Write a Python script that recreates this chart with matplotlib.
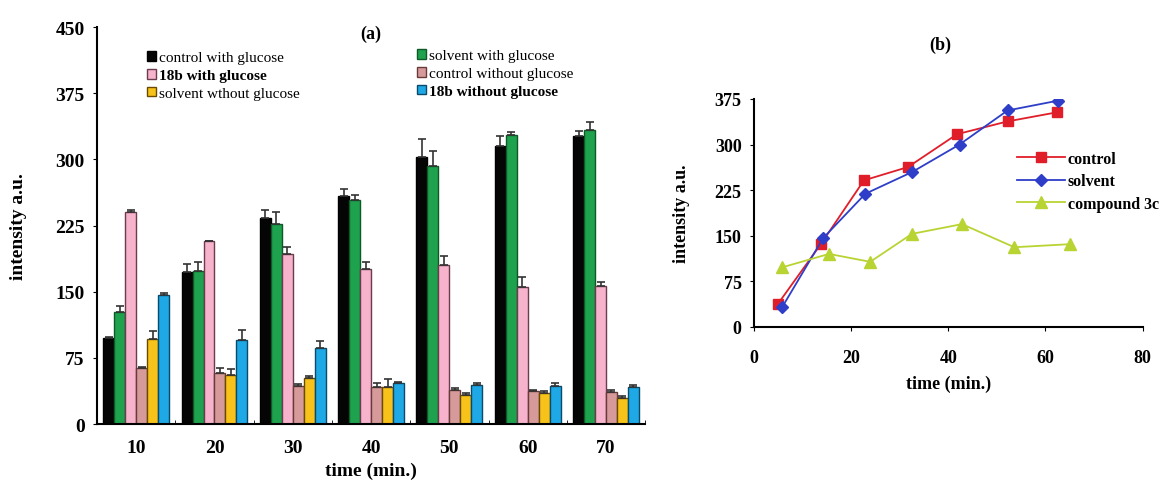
import numpy as np
import matplotlib.pyplot as plt

plt.rcParams['font.family'] = ['Liberation Serif', 'DejaVu Serif']

# ---- panel (a) data ----
times = ['10', '20', '30', '40', '50', '60', '70']
series_names = ['control with glucose', 'solvent with glucose', '18b with glucose',
                'control without glucose', 'solvent wthout glucose', '18b without glucose']
ctrl_glu = [97, 172, 234, 258, 303, 315, 326]
solv_glu = [127, 174, 227, 254, 292, 328, 333]
b18_glu = [240, 207, 193, 176, 180, 155, 157]
ctrl_noglu = [63, 58, 43, 42, 39, 37, 36]
solv_noglu = [96, 55, 52, 42, 33, 35, 30]
b18_noglu = [146, 95, 86, 46, 44, 43, 42]

err_ctrl_glu = [2, 9, 9, 8, 20, 11, 6]
err_solv_glu = [7, 10, 13, 6, 17, 3, 9]
err_b18_glu = [3, 1, 8, 8, 10, 12, 4]
err_ctrl_noglu = [2, 5, 2, 4, 2, 2, 2]
err_solv_noglu = [10, 7, 2, 9, 2, 2, 2]
err_b18_noglu = [2, 12, 8, 2, 2, 3, 2]

# ---- panel (b) data ----
ctrl_x = [4.9, 13.8, 22.6, 31.7, 41.8, 52.2, 62.4]
ctrl_y = [38, 137, 241, 263, 317, 338, 353]
solv_x = [5.8, 14.2, 22.9, 32.6, 42.3, 52.2, 62.5]
solv_y = [33, 146, 219, 255, 300, 356, 372]
comp_x = [5.8, 15.4, 23.9, 32.5, 42.8, 53.6, 65.0]
comp_y = [98, 120, 107, 153, 169, 131, 136]

fig = plt.figure(figsize=(11.73, 4.85), dpi=100)

# ================= (a) =================
ax = fig.add_axes([0.0827, 0.1237, 0.4673, 0.8183])
vals = [ctrl_glu, solv_glu, b18_glu, ctrl_noglu, solv_noglu, b18_noglu]
errs = [err_ctrl_glu, err_solv_glu, err_b18_glu, err_ctrl_noglu, err_solv_noglu, err_b18_noglu]
colors = ['#050505', '#1fa24e', '#f6b3cb', '#d69a9a', '#f7c21a', '#1ea9e6']
edges = ['#000000', '#0d5a26', '#6b3b4e', '#6a3a3a', '#6a4a00', '#0a4a6a']
x = np.arange(len(times))
w = 0.14
bars = []
for k in range(6):
    pos = x + (k - 2.5) * w
    e = np.array(errs[k])
    b = ax.bar(pos, vals[k], w, color=colors[k], edgecolor=edges[k], linewidth=1.0,
               yerr=[np.zeros_like(e), e], error_kw=dict(ecolor='#333333', elinewidth=1.2,
                                                        capsize=3, capthick=1.2))
    bars.append(b)

ax.set_xlim(-0.5, 6.5)
ax.set_ylim(0, 450)
ax.set_yticks([0, 75, 150, 225, 300, 375, 450])
ax.set_xticks(x)
ax.set_xticklabels(times)
ax.set_xticks(np.arange(-0.5, 7, 1), minor=True)
ax.tick_params(axis='x', which='major', length=0, pad=11)
ax.tick_params(axis='x', which='minor', length=3, direction='in')
ax.tick_params(axis='y', length=3, pad=6)
for lab in ax.get_xticklabels() + ax.get_yticklabels():
    lab.set_fontweight('bold')
    lab.set_fontsize(14)
ax.spines['top'].set_visible(False)
ax.spines['right'].set_visible(False)
ax.spines['left'].set_linewidth(1.5)
ax.spines['bottom'].set_linewidth(1.5)
ax.set_xlabel('time (min.)', fontsize=14, fontweight='bold', labelpad=4)
ax.set_ylabel('intensity a.u.', fontsize=14, fontweight='bold', labelpad=20)
ax.text(0.5, 0.985, '(a)', transform=ax.transAxes, fontsize=13, fontweight='bold',
        ha='center', va='center')

leg1 = ax.legend([bars[0], bars[2], bars[4]],
                 [series_names[0], series_names[2], series_names[4]],
                 loc='upper left', bbox_to_anchor=(0.08, 0.955), frameon=False,
                 fontsize=11, handlelength=0.6, handleheight=0.6, handletextpad=0.2,
                 labelspacing=0.3, borderaxespad=0)
ax.add_artist(leg1)
leg2 = ax.legend([bars[1], bars[3], bars[5]],
                 [series_names[1], series_names[3], series_names[5]],
                 loc='upper left', bbox_to_anchor=(0.572, 0.96), frameon=False,
                 fontsize=11, handlelength=0.6, handleheight=0.6, handletextpad=0.2,
                 labelspacing=0.3, borderaxespad=0)
for leg in (leg1, leg2):
    for t in leg.get_texts():
        if t.get_text().startswith('18b'):
            t.set_fontweight('bold')

# ================= (b) =================
bx = fig.add_axes([0.643, 0.324, 0.331, 0.47])
bx.plot(ctrl_x, ctrl_y, color='#e01e2a', marker='s', markersize=7, linewidth=1.3,
        label='control')
bx.plot(solv_x, solv_y, color='#2e3ec8', marker='D', markersize=6.5, linewidth=1.3,
        label='solvent')
bx.plot(comp_x, comp_y, color='#b8d433', marker='^', markersize=9, linewidth=1.3,
        label='compound 3c')
bx.set_xlim(0, 80)
bx.set_ylim(0, 375)
bx.set_xticks([0, 20, 40, 60, 80])
bx.set_yticks([0, 75, 150, 225, 300, 375])
bx.tick_params(axis='x', length=3, pad=13)
bx.tick_params(axis='y', length=3, pad=6)
for lab in bx.get_xticklabels() + bx.get_yticklabels():
    lab.set_fontweight('bold')
    lab.set_fontsize(13)
bx.spines['top'].set_visible(False)
bx.spines['right'].set_visible(False)
bx.spines['left'].set_linewidth(1.5)
bx.spines['bottom'].set_linewidth(1.5)
bx.set_xlabel('time (min.)', fontsize=13, fontweight='bold', labelpad=6)
bx.set_ylabel('intensity a.u.', fontsize=13, fontweight='bold', labelpad=18)
bx.text(0.48, 1.24, '(b)', transform=bx.transAxes, fontsize=13, fontweight='bold',
        ha='center', va='center')
lg = bx.legend(loc='upper left', bbox_to_anchor=(0.66, 0.8), frameon=False,
               fontsize=11.5, handlelength=3.0, handletextpad=0.2, labelspacing=0.4,
               borderaxespad=0)
for t in lg.get_texts():
    t.set_fontweight('bold')

fig.savefig('out.png', dpi=100)
